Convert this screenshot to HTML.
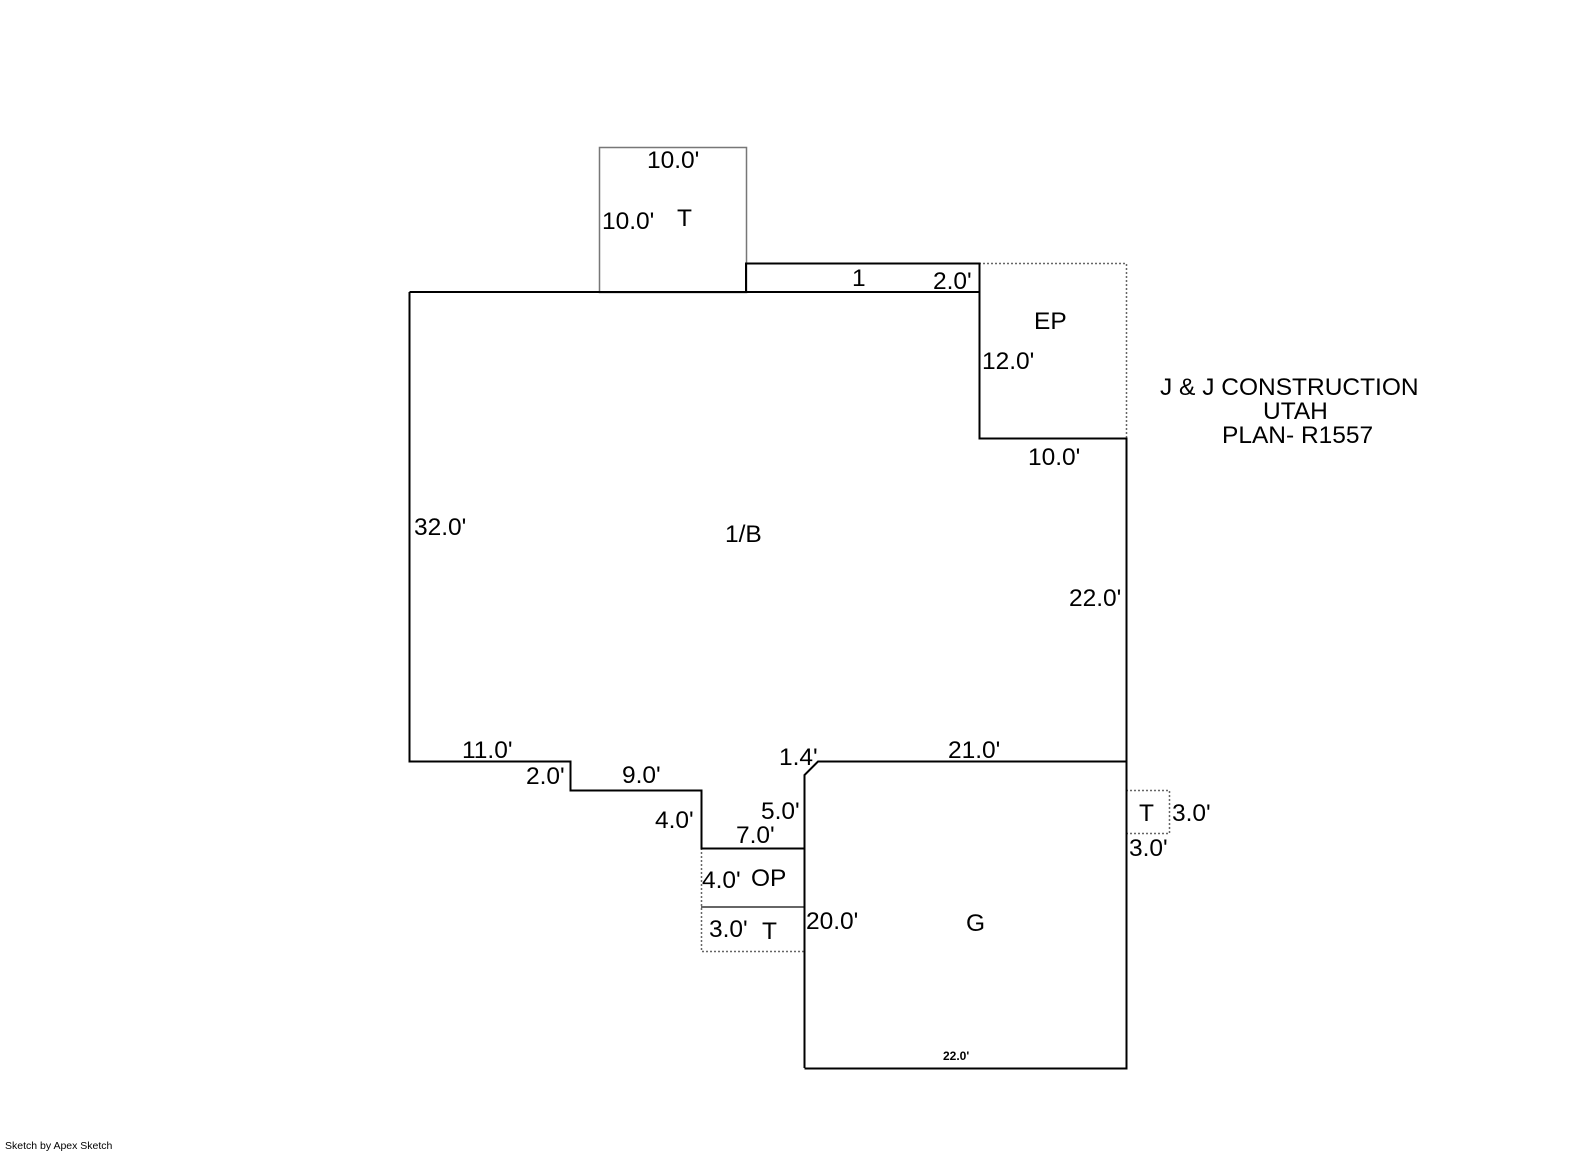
<!DOCTYPE html>
<html><head><meta charset="utf-8"><style>
html,body{margin:0;padding:0;background:#fff;}
svg{display:block;}
text{font-family:"Liberation Sans",Arial,sans-serif;font-size:24.5px;fill:#000;}
</style></head><body>
<svg width="1585" height="1163" viewBox="0 0 1585 1163" xmlns="http://www.w3.org/2000/svg">
<rect width="1585" height="1163" fill="#fff"/>
<rect x="599.5" y="147.5" width="147" height="145" fill="none" stroke="#777" stroke-width="1.5"/>
<path d="M979 263.5 H1126.5 V438" fill="none" stroke="#666" stroke-width="1.5" stroke-dasharray="2,2"/>
<path d="M701.5 848 V951.5 H804" fill="none" stroke="#666" stroke-width="1.5" stroke-dasharray="2,2"/>
<line x1="701" y1="907" x2="804" y2="907" stroke="#666" stroke-width="2"/>
<path d="M1126 790.5 H1169.5 V833.5 H1126" fill="none" stroke="#666" stroke-width="1.5" stroke-dasharray="2,2"/>
<path d="M409.5 292 H746 V263.5 H979.5 V438.5 H1126.5 V761 M409.5 292 V761.5 H570.5 V790.5 H701.5 V848.5 H804" fill="none" stroke="#000" stroke-width="2"/>
<path d="M746 292 H979" fill="none" stroke="#000" stroke-width="2"/>
<path d="M804.5 1068 V775 L818 761.5 H1126.5 V1068.5 H804.5" fill="none" stroke="#000" stroke-width="2"/>
<text x="647" y="168">10.0'</text>
<text x="602" y="229">10.0'</text>
<text x="677" y="226">T</text>
<text x="852" y="286">1</text>
<text x="933" y="289">2.0'</text>
<text x="1034" y="329">EP</text>
<text x="982" y="369">12.0'</text>
<text x="1028" y="465">10.0'</text>
<text x="414" y="535">32.0'</text>
<text x="725" y="542">1/B</text>
<text x="1069" y="606">22.0'</text>
<text x="1160" y="395">J &amp; J CONSTRUCTION</text>
<text x="1263" y="419">UTAH</text>
<text x="1222" y="443">PLAN- R1557</text>
<text x="462" y="758">11.0'</text>
<text x="526" y="784">2.0'</text>
<text x="622" y="783">9.0'</text>
<text x="655" y="828">4.0'</text>
<text x="779" y="765">1.4'</text>
<text x="948" y="758">21.0'</text>
<text x="761" y="819">5.0'</text>
<text x="736" y="843">7.0'</text>
<text x="702" y="888">4.0'</text>
<text x="751" y="886">OP</text>
<text x="709" y="937">3.0'</text>
<text x="762" y="939">T</text>
<text x="806" y="929">20.0'</text>
<text x="966" y="931">G</text>
<text x="1139" y="821">T</text>
<text x="1172" y="821">3.0'</text>
<text x="1129" y="856">3.0'</text>
<text x="943" y="1060" style="font-size:12px;font-weight:bold">22.0'</text>
<text x="5" y="1149" style="font-size:10.5px">Sketch by Apex Sketch</text>
</svg>
</body></html>
